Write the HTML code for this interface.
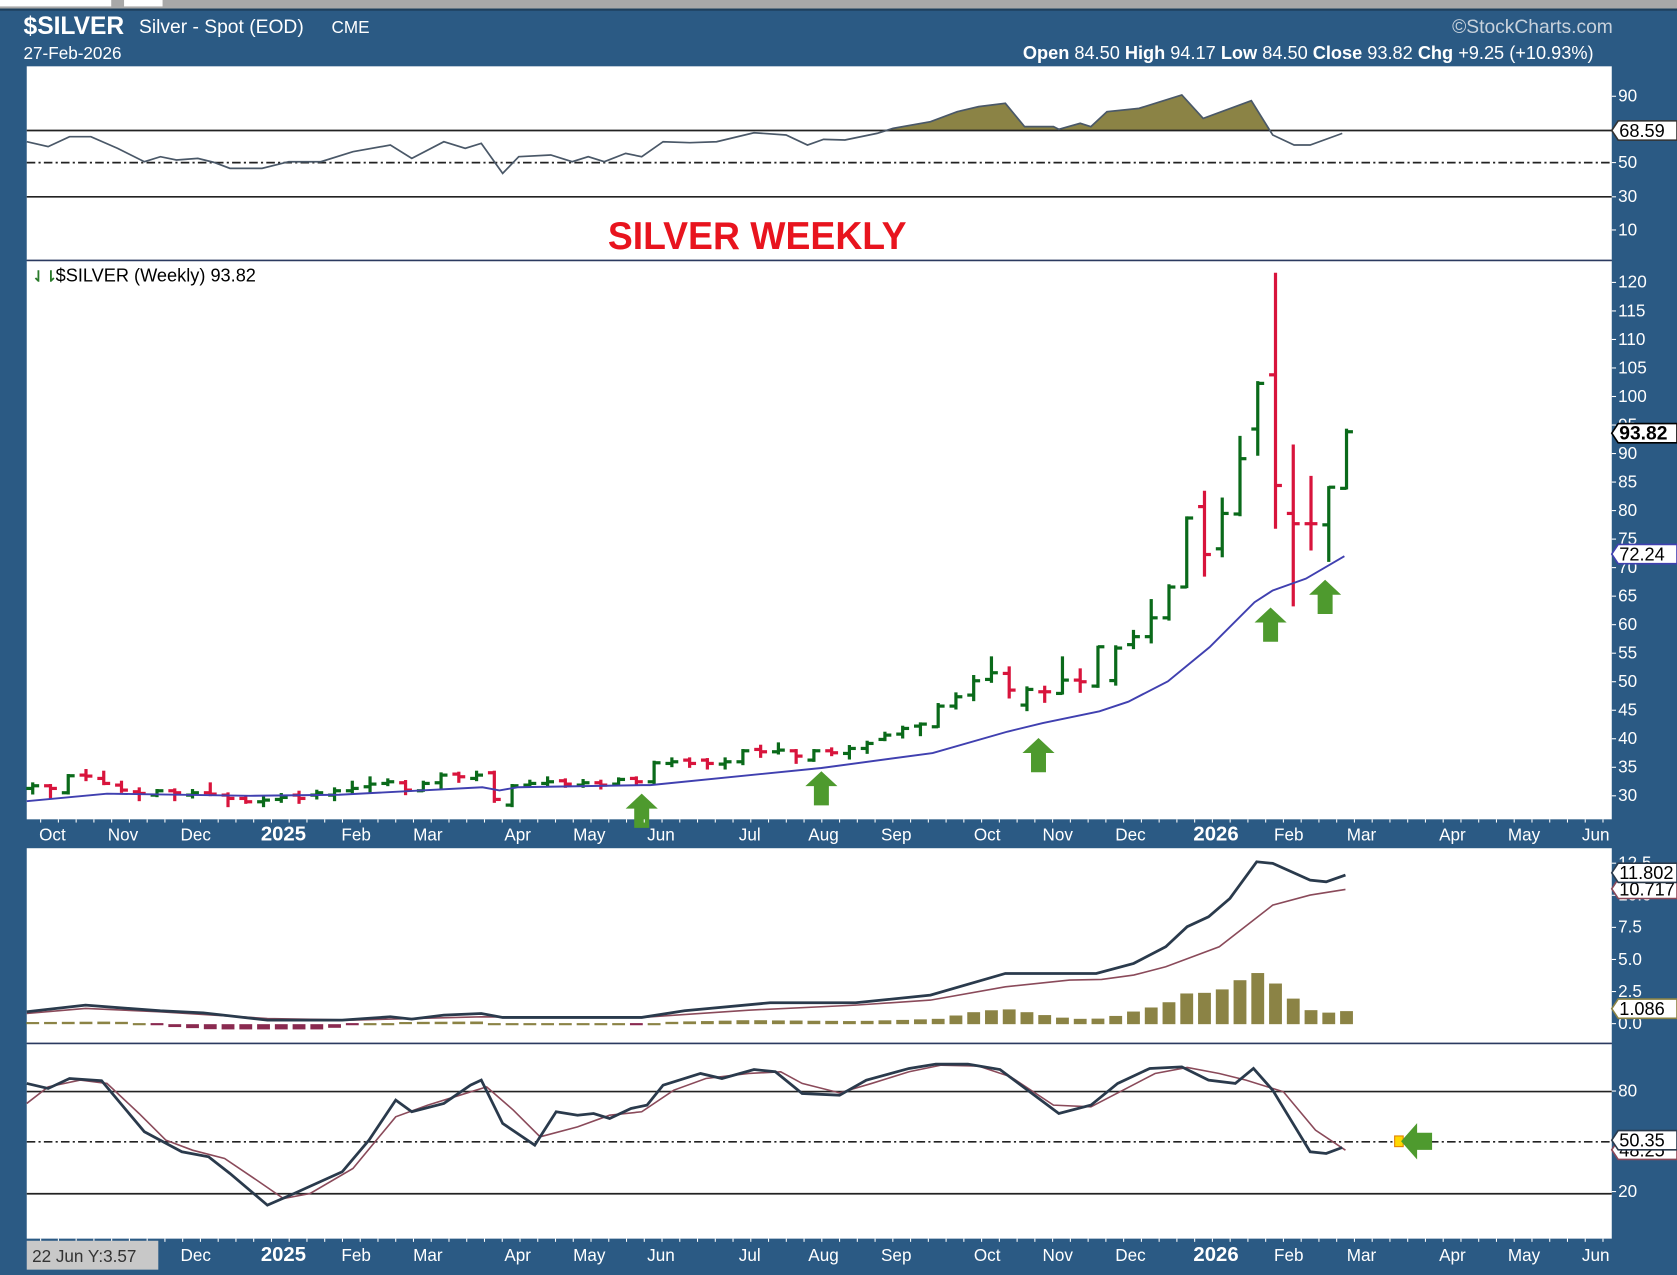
<!DOCTYPE html>
<html><head><meta charset="utf-8"><style>
html,body{margin:0;padding:0;background:#2b5a84;}
svg{display:block;}
text{font-family:"Liberation Sans",Arial,sans-serif;}
</style></head><body>
<svg id="s" width="1677" height="1275" viewBox="0 0 1568 1192" preserveAspectRatio="none" xmlns="http://www.w3.org/2000/svg">
<rect x="0" y="0" width="1568" height="1192" fill="#2b5a84"/>
<rect x="0" y="0" width="1568" height="8" fill="#a8a8a8"/>
<rect x="0" y="0" width="104" height="6" fill="#fff"/>
<rect x="116" y="0" width="36" height="6" fill="#fff"/>
<rect x="0" y="8" width="1568" height="2" fill="#1f3f5c"/>
<!-- header -->
<text x="22" y="32" fill="#fff" font-size="23" font-weight="bold">$SILVER</text>
<text x="130" y="31" fill="#fff" font-size="18">Silver - Spot (EOD)</text>
<text x="310" y="31" fill="#fff" font-size="16">CME</text>
<text x="22" y="55" fill="#fff" font-size="16">27-Feb-2026</text>
<text x="1508" y="31" fill="#c8d2dc" font-size="18" text-anchor="end">©StockCharts.com</text>
<text x="1490" y="55" fill="#fff" font-size="17" text-anchor="end"><tspan font-weight="bold">Open</tspan> 84.50 <tspan font-weight="bold">High</tspan> 94.17 <tspan font-weight="bold">Low</tspan> 84.50 <tspan font-weight="bold">Close</tspan> 93.82 <tspan font-weight="bold">Chg</tspan> +9.25 (+10.93%)</text>
<!-- panels -->
<rect x="25" y="62" width="1482" height="181" fill="#fff"/>
<rect x="25" y="244" width="1482" height="522" fill="#fff"/>
<rect x="25" y="793" width="1482" height="182" fill="#fff"/>
<rect x="25" y="976" width="1482" height="182" fill="#fff"/>
<line x1="25" y1="243.5" x2="1507" y2="243.5" stroke="#2b3a60" stroke-width="1.5"/>
<line x1="25" y1="975.5" x2="1507" y2="975.5" stroke="#2b3a60" stroke-width="1.5"/>
<g id="rsi"></g>
<text x="708" y="233" fill="#e8141e" font-size="36" font-weight="bold" text-anchor="middle" transform="translate(708,0) scale(0.97,1) translate(-708,0)">SILVER WEEKLY</text>
<text x="30" y="263" fill="#2a7a2a" font-size="14" font-weight="bold">⇃⇂</text>
<text x="52" y="263" fill="#000" font-size="17">$SILVER (Weekly) 93.82</text>
<g id="price"></g>
<g id="macd"></g>
<g id="stoch"></g>
<g id="axes"></g>
<rect x="25" y="1160" width="123" height="27" fill="#c8c8c8"/>
<text x="30" y="1180" fill="#333" font-size="16">22 Jun Y:3.57</text>
</svg>
<script>
const NS="http://www.w3.org/2000/svg";
function el(p,t,a,txt){const e=document.createElementNS(NS,t);for(const k in a)e.setAttribute(k,a[k]);if(txt!==undefined)e.textContent=txt;document.getElementById(p).appendChild(e);return e;}
function pts(a){return a.map(p=>p[0]+","+p[1]).join(" ");}
// ---------- RSI ----------
const rz=[[25,425],[45,440],[65,410],[85,410],[110,445],[135,485],[150,470],[165,480],[185,475],[200,487],[215,505],[245,505],[270,485],[300,485],[330,455],[365,435],[385,475],[415,425],[435,445],[450,430],[470,520],[485,470],[515,465],[535,485],[550,470],[565,485],[585,460],[600,470],[620,425],[645,428],[670,425],[705,398],[735,405],[755,435],[770,418],[790,420],[820,400],[835,385],[870,365],[895,335],[915,320],[940,310],[958,380],[985,380],[990,388],[1010,370],[1020,380],[1035,335],[1065,325],[1105,285],[1125,355],[1170,302],[1190,405],[1210,435],[1225,435],[1255,400]];
const rp=rz.map(p=>[p[0],+(p[1]*0.3117).toFixed(1)]);
// fill above 70 (y=122)
let fill=[];const L70=122;
for(let i=0;i<rp.length-1;i++){const a=rp[i],b=rp[i+1];
 const ay=Math.min(a[1],L70),by=Math.min(b[1],L70);
 if((a[1]-L70)*(b[1]-L70)<0){const t=(L70-a[1])/(b[1]-a[1]);const x=a[0]+t*(b[0]-a[0]);fill.push([a[0],ay],[x,L70]);}else fill.push([a[0],ay]);}
fill.push([rp[rp.length-1][0],Math.min(rp[rp.length-1][1],L70)]);
el("rsi","polygon",{points:pts([[25,L70],...fill,[1258,L70]]),fill:"#8b8345"});
el("rsi","line",{x1:25,y1:122,x2:1507,y2:122,stroke:"#222","stroke-width":1.6});
el("rsi","line",{x1:25,y1:152,x2:1507,y2:152,stroke:"#222","stroke-width":1.6,"stroke-dasharray":"8,3,2,3"});
el("rsi","line",{x1:25,y1:184,x2:1507,y2:184,stroke:"#222","stroke-width":1.6});
el("rsi","polyline",{points:pts(rp),fill:"none",stroke:"#4a5868","stroke-width":1.6});
// ---------- PRICE ----------
const PY=p=>744-(p-30)*5.333;
const z4=zy=>60.81-0.05845*zy, z5=zy=>67.82-0.05845*zy;
const b4=[["G",505,490,520,497],["R",497,495,535,505],["G",518,465,520,467],["R",465,450,480,468],["R",475,455,492,490],["R",495,485,515,510],["R",515,505,540,520],["G",525,510,528,512],["R",512,508,540,518],["G",525,510,532,518],["R",518,490,525,522],["R",525,520,558,535],["R",535,528,548,545],["G",545,530,558,540],["G",538,522,545,532],["R",525,515,548,535],["G",525,512,535,518],["G",525,505,540,512],["G",512,485,518,505],["G",500,472,518,492],["G",490,478,495,485],["R",488,483,522,510],["G",512,485,512,490],["G",488,460,505,465],["R",462,458,485,470],["G",475,455,480,465],["R",458,455,545,538],["G",555,495,558,497],["G",495,482,500,490],["G",490,472,498,485],["R",482,478,500,492],["G",495,480,500,488],["R",488,482,505,495],["G",492,475,495,478],["R",475,472,490,485]];
const b5=[["G",605,545,610,548],["G",550,535,558,545],["R",540,535,560,550],["R",540,537,565,550],["G",552,535,565,545],["G",545,510,552,512],["R",508,497,530,515],["G",515,490,520,510],["R",512,510,548,528],["G",540,510,542,512],["R",512,505,525,518],["G",520,498,535,505],["G",505,485,518,490],["G",478,458,480,465],["G",462,440,472,445],["G",438,430,465,432],["G",440,372,440,378],["G",378,340,385,350],["G",345,288,360,302],["G",298,232,305,278],["R",280,262,352,330],["G",375,322,390,328],["R",335,320,365,335],["G",340,232,340,300],["R",300,268,335,305],["G",318,200,320,200]];
const b2=[["G",50.2,56.2,49.5,55.9],["G",56.5,58.9,55.9,57.9],["G",57.9,64.3,56.9,61.2],["G",61.2,66.9,60.9,66.6],["G",66.6,78.8,66.6,78.7],["R",80.7,83.3,68.6,72.3],["G",73.3,82.1,72.0,79.5],["G",79.4,92.9,79.2,89.1],["G",94.3,102.5,89.8,102.3],["R",103.8,121.5,77.0,84.4],["R",79.5,91.4,63.4,77.7],["R",77.7,85.9,73.2,77.7],["G",77.5,84.1,71.2,84.1],["G",83.9,94.17,83.9,93.82]];
let bars=[];
b4.forEach(b=>bars.push([b[0],z4(b[1]),z4(b[2]),z4(b[3]),z4(b[4])]));
b5.forEach(b=>bars.push([b[0],z5(b[1]),z5(b[2]),z5(b[3]),z5(b[4])]));
b2.forEach(b=>bars.push(b));
const N=bars.length; const X=i=>1259-(N-1-i)*16.6;
bars.forEach((b,i)=>{const x=X(i);const c=b[0]=="G"?"#0a6a1a":"#d8143c";
 const hi=Math.max(b[1],b[2],b[3],b[4]),lo=Math.min(b[1],b[2],b[3],b[4]);
 el("price","line",{x1:x,y1:PY(hi)-1,x2:x,y2:PY(lo)+1,stroke:c,"stroke-width":3});
 el("price","line",{x1:x-6,y1:PY(b[1]),x2:x,y2:PY(b[1]),stroke:c,"stroke-width":3});
 el("price","line",{x1:x,y1:PY(b[4]),x2:x+6,y2:PY(b[4]),stroke:c,"stroke-width":3});
});
const ma=[[25,749],[100,742],[234,744],[317,743],[451,736],[467,739],[484,736],[601,734],[608,734],[768,718],[872,704],[942,684],[975,676],[1028,665],[1055,656],[1092,637],[1131,605],[1173,563],[1190,552],[1221,541],[1257,520]];
el("price","polyline",{points:pts(ma),fill:"none",stroke:"#4040b0","stroke-width":1.8});
function upArrow(cx,top){const h=32,w=30;return [[cx,top],[cx+w/2,top+14],[cx+7,top+14],[cx+7,top+h],[cx-7,top+h],[cx-7,top+14],[cx-w/2,top+14]];}
[[600,742],[768,721],[971,690],[1188,568],[1239,542]].forEach(a=>el("price","polygon",{points:pts(upArrow(a[0],a[1])),fill:"#4e9a2e"}));
// ---------- MACD ----------
const MY=zy=>+(766.7+zy*0.3117).toFixed(1);
const mac=[[25,575],[80,555],[120,565],[150,572],[190,578],[250,600],[320,600],[365,590],[385,597],[415,585],[450,580],[470,592],[600,592],[640,572],[720,548],[800,548],[870,525],[940,460],[1025,460],[1060,430],[1090,380],[1110,320],[1130,290],[1150,235],[1175,125],[1190,130],[1225,180],[1240,185],[1258,165]];
const sig=[[25,580],[80,565],[150,575],[250,595],[330,600],[450,590],[600,592],[700,570],[800,555],[870,540],[940,500],[1000,480],[1030,478],[1060,465],[1090,440],[1140,380],[1190,255],[1225,225],[1258,208]];
const hz=[[25,606],[110,604],[140,612],[150,618],[200,628],[300,628],[320,620],[340,612],[360,606],[450,604],[465,612],[600,614],[615,606],[700,600],[800,603],[880,596],[905,578],[940,566],[960,576],[990,592],[1020,598],[1040,590],[1055,578],[1072,565],[1090,553],[1105,520],[1122,520],[1140,512],[1155,490],[1172,452],[1190,483],[1207,530],[1222,568],[1240,578],[1258,573]];
function interp(a,x){for(let i=0;i<a.length-1;i++){if(x>=a[i][0]&&x<=a[i+1][0]){const t=(x-a[i][0])/(a[i+1][0]-a[i][0]);return a[i][1]+t*(a[i+1][1]-a[i][1]);}}return a[a.length-1][1];}
const zero=MY(612);
for(let i=0;i<N;i++){const x=X(i);if(x<25)continue;const v=MY(interp(hz,x));
 const top=Math.min(v,zero),h=Math.max(Math.abs(v-zero),2);
 const col=v>zero+0.5?"#8a2a50":"#8b8345";
 el("macd","rect",{x:x-6,y:Math.abs(v-zero)<2?zero-1:top,width:12,height:h,fill:col});}
el("macd","polyline",{points:pts(sig.map(p=>[p[0],MY(p[1])])),fill:"none",stroke:"#8a4a5a","stroke-width":1.5});
el("macd","polyline",{points:pts(mac.map(p=>[p[0],MY(p[1])])),fill:"none",stroke:"#2a3a4c","stroke-width":2.6});
// ---------- STOCH ----------
el("stoch","line",{x1:25,y1:1020.5,x2:1507,y2:1020.5,stroke:"#222","stroke-width":1.6});
el("stoch","line",{x1:25,y1:1067.5,x2:1507,y2:1067.5,stroke:"#222","stroke-width":1.6,"stroke-dasharray":"8,3,2,3"});
el("stoch","line",{x1:25,y1:1116,x2:1507,y2:1116,stroke:"#222","stroke-width":1.6});
const sk=[[25,790],[45,805],[65,775],[95,782],[135,935],[170,995],[195,1010],[215,1060],[250,1155],[275,1120],[320,1055],[345,960],[370,840],[385,875],[415,850],[440,795],[450,780],[470,910],[500,975],[520,875],[540,885],[555,880],[570,895],[590,865],[605,855],[620,795],[655,760],[675,775],[705,748],[725,755],[750,820],[785,825],[810,780],[850,745],[875,732],[905,732],[935,748],[965,820],[990,880],[1020,855],[1045,790],[1075,745],[1105,740],[1130,780],[1155,790],[1172,745],[1190,810],[1225,995],[1240,1000],[1255,982]];
const sd=[[25,850],[45,800],[75,780],[100,790],[130,880],[155,960],[180,990],[210,1015],[240,1080],[265,1135],[290,1120],[330,1045],[370,890],[400,855],[430,825],[455,800],[480,870],[505,950],[540,920],[570,885],[600,875],[630,810],[660,775],[700,760],[730,755],[750,790],[785,818],[815,790],[850,755],[880,735],[915,738],[945,770],[985,855],[1020,860],[1050,810],[1080,760],[1110,742],[1140,760],[1165,780],[1200,815],[1230,930],[1258,990]];
el("stoch","polyline",{points:pts(sd.map(p=>[p[0],MY(p[1])])),fill:"none",stroke:"#8a4a5a","stroke-width":1.5});
el("stoch","polyline",{points:pts(sk.map(p=>[p[0],MY(p[1])])),fill:"none",stroke:"#2a3a4c","stroke-width":2.6});
el("stoch","rect",{x:1304,y:1062,width:8,height:10,fill:"#ffd800",stroke:"#e08000"});
el("stoch","polygon",{points:pts([[1310,1067],[1325,1050],[1325,1059],[1339,1059],[1339,1075],[1325,1075],[1325,1084]]),fill:"#4e9a2e"});
// ---------- AXES ----------
const months=[["Oct",49],["Nov",115],["Dec",183],["2025",265],["Feb",333],["Mar",400],["Apr",484],["May",551],["Jun",618],["Jul",701],["Aug",770],["Sep",838],["Oct",923],["Nov",989],["Dec",1057],["2026",1137],["Feb",1205],["Mar",1273],["Apr",1358],["May",1425],["Jun",1492]];
months.forEach((m,k)=>{const bold=m[0].length==4;
 el("axes","text",{x:m[1],y:786,fill:"#fff","font-size":bold?19:16,"font-weight":bold?"bold":"normal","text-anchor":"middle"},m[0]);
 if(k>=2)el("axes","text",{x:m[1],y:1179,fill:"#fff","font-size":bold?19:16,"font-weight":bold?"bold":"normal","text-anchor":"middle"},m[0]);});
for(let x=38;x<1507;x+=16.6){el("axes","line",{x1:x,y1:766,x2:x,y2:769,stroke:"#fff","stroke-width":1});el("axes","line",{x1:x,y1:1158,x2:x,y2:1161,stroke:"#fff","stroke-width":1});}
function rl(y,t,fs){el("axes","line",{x1:1507,y1:y,x2:1511,y2:y,stroke:"#fff"});el("axes","text",{x:1513,y:y+5,fill:"#fff","font-size":fs||16},t);}
[["90",90],["50",152],["30",184],["10",215]].forEach(a=>rl(a[1],a[0]));
for(let p=120;p>=30;p-=5)rl(PY(p),String(p));
[["12.5",807],["10.0",837],["7.5",867],["5.0",897],["2.5",927],["0.0",957]].forEach(a=>rl(a[1],a[0]));
rl(1020,"80");rl(1114,"20");
function tag(y,t,border,bold,fs){const w=58;el("axes","polygon",{points:pts([[1507,y],[1513,y-9],[1568,y-9],[1568,y+9],[1513,y+9]]),fill:"#fff",stroke:border,"stroke-width":1.5});
 el("axes","text",{x:1514,y:y+6,fill:"#000","font-size":fs||17,"font-weight":bold?"bold":"normal"},t);}
tag(122,"68.59","#333");
tag(405,"93.82","#000",true,18);
tag(518,"72.24","#4040b0");
tag(831,"10.717","#8a4a5a");
tag(816,"11.802","#2a3a4c");
tag(943,"1.086","#8b8345");
tag(1075,"48.25","#8a4a5a");
tag(1066,"50.35","#2a3a4c");
</script>
</body></html>
